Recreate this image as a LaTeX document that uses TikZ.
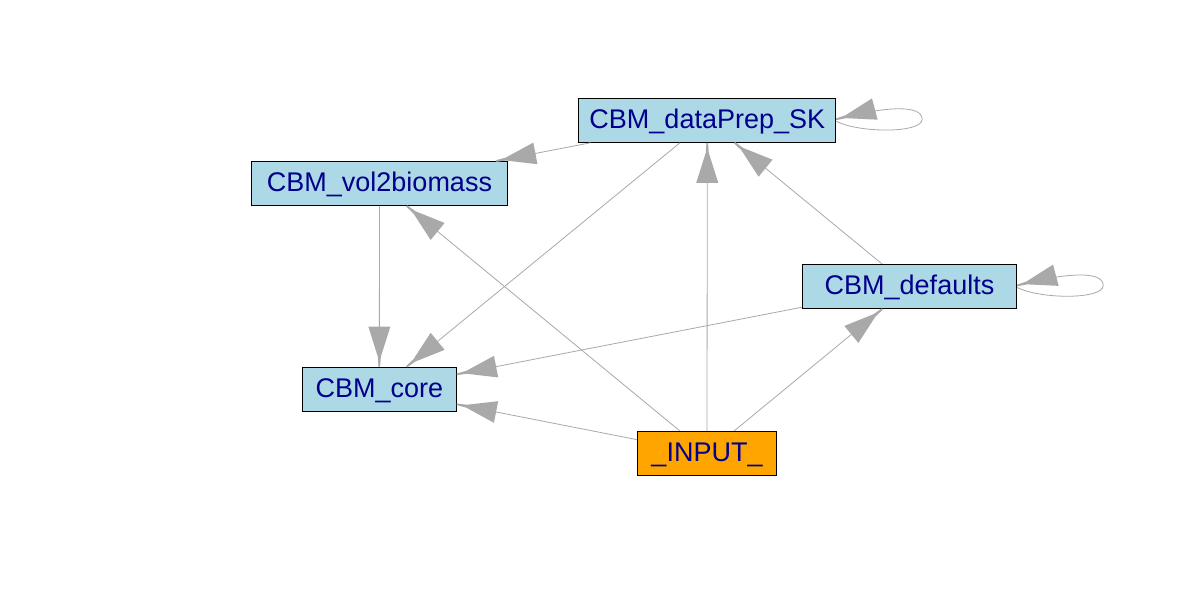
\documentclass[tikz,border=0pt]{standalone}
\usepackage{fontspec}
\setmainfont{Liberation Sans}
\usetikzlibrary{decorations.markings}
\definecolor{edgegray}{HTML}{A9A9A9}
\definecolor{boxblue}{HTML}{ADD8E6}
\definecolor{boxorange}{HTML}{FFA500}
\definecolor{txtblue}{HTML}{00008B}
\tikzset{
  vbox/.style={draw=black, line width=1pt, fill=boxblue, inner sep=0pt, minimum height=44pt,
    text=txtblue, font=\fontsize{27}{32}\selectfont, text height=20pt, text depth=3pt},
  edge/.style={draw=edgegray, line width=0.8pt},
  arrowhd/.style={postaction={decorate, decoration={markings, mark=at position 1 with {
    \fill[edgegray] (0pt,0.8pt) -- (-10pt,1.5pt) -- (-40pt,11pt) -- (-40pt,-11pt) -- (-10pt,-1.5pt) -- (0pt,-0.8pt) -- cycle;}}}}
}
\begin{document}
\begin{tikzpicture}[x=1pt, y=-1pt]
\useasboundingbox[fill=white] (0,0) rectangle (1195,593);
\node[vbox, minimum width=256.7pt] (dp) at (707.3,120.3) {CBM\_dataPrep\_SK};
\node[vbox, minimum width=256.4pt] (vb) at (379.5,183.5) {CBM\_vol2biomass};
\node[vbox, minimum width=214.4pt] (df) at (909.5,286.5) {CBM\_defaults};
\node[vbox, minimum width=154pt] (co) at (379.3,389.2) {CBM\_core};
\node[vbox, fill=boxorange, minimum width=139.4pt] (in) at (707,453.3) {\_INPUT\_};

\draw[edge, arrowhd] (dp) -- (vb);
\draw[edge, arrowhd] (dp) -- (co);
\draw[edge, arrowhd] (vb) -- (co);
\draw[edge, arrowhd] (df) -- (dp);
\draw[edge, arrowhd] (df) -- (co);
\draw[edge, arrowhd] (in) -- (co);
\draw[edge, arrowhd] (in) -- (vb);
\draw[edge, arrowhd] (in) -- (dp);
\draw[edge, arrowhd] (in) -- (df);

\draw[edge, arrowhd] ([shift={(0,1)}]dp.east) .. controls ([shift={(24,13)}]dp.east) and ([shift={(86,13)}]dp.east) .. ([shift={(86,-1)}]dp.east)
  .. controls ([shift={(86,-16)}]dp.east) and ([shift={(49,-14)}]dp.east) .. ([shift={(0,-1)}]dp.east);
\draw[edge, arrowhd] ([shift={(0,1)}]df.east) .. controls ([shift={(24,13)}]df.east) and ([shift={(86,13)}]df.east) .. ([shift={(86,-1)}]df.east)
  .. controls ([shift={(86,-16)}]df.east) and ([shift={(49,-14)}]df.east) .. ([shift={(0,-1)}]df.east);
\end{tikzpicture}
\end{document}
